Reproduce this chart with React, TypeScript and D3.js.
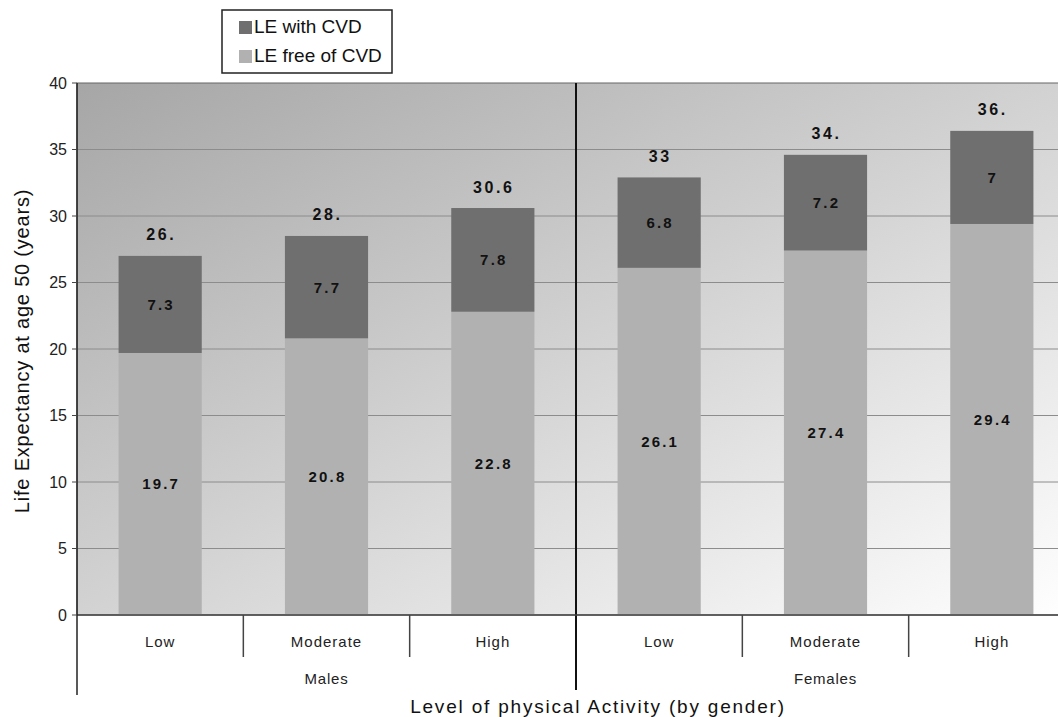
import React from "react";
import * as d3 from "d3";

// Life expectancy at age 50, split into years free of CVD and years with CVD
const genders = ["Males", "Females"];
const levels = ["Low", "Moderate", "High"];
const freeOfCVD = [19.7, 20.8, 22.8, 26.1, 27.4, 29.4];
const withCVD = [7.3, 7.7, 7.8, 6.8, 7.2, 7.0];
const withCVDLabels = ["7.3", "7.7", "7.8", "6.8", "7.2", "7"];
const totalLabels = ["26.", "28.", "30.6", "33", "34.", "36."];
const yTicks = [0, 5, 10, 15, 20, 25, 30, 35, 40];

const W = 1058;
const H = 717;
const left = 77;
const right = 1075;
const top = 83;
const bottom = 615;

const FONT = "'Liberation Sans', Arial, Helvetica, sans-serif";
const DARK = "#6f6f6f";
const LIGHT = "#b1b1b1";

export default function App() {
  const y = d3.scaleLinear().domain([0, 40]).range([bottom, top]);
  const gx = d3.scaleBand<string>().domain(genders).range([left, right]);
  const lx = d3
    .scaleBand<string>()
    .domain(levels)
    .range([0, gx.bandwidth()])
    .paddingInner(0.5)
    .paddingOuter(0.25);
  const step = lx.step();

  const rows = genders.flatMap((g, gi) =>
    levels.map((l, li) => {
      const i = gi * levels.length + li;
      const x0 = (gx(g) as number) + (lx(l) as number);
      return {
        i,
        g,
        l,
        x0,
        cx: x0 + lx.bandwidth() / 2,
        catStart: (gx(g) as number) + li * step,
        free: freeOfCVD[i],
        cvd: withCVD[i],
      };
    })
  );

  const valueStyle: React.CSSProperties = {
    fontFamily: FONT,
    fontWeight: "bold",
    fontSize: 15,
    letterSpacing: 2.2,
    fill: "#111",
  };

  return (
    <svg
      width={W}
      height={H}
      style={{ position: "absolute", left: 0, top: 0, background: "#fff" }}
    >
      <defs>
        <linearGradient id="plotBg" x1="0" y1="0" x2="1" y2="1">
          <stop offset="0" stopColor="#a6a6a6" />
          <stop offset="1" stopColor="#ffffff" />
        </linearGradient>
      </defs>

      {/* plot background */}
      <rect
        x={left}
        y={top}
        width={right - left}
        height={bottom - top}
        fill="url(#plotBg)"
        stroke="#666"
        strokeWidth={1}
      />

      {/* horizontal gridlines */}
      {yTicks
        .filter((t) => t > 0 && t < 40)
        .map((t) => (
          <line
            key={"g" + t}
            x1={left}
            x2={right}
            y1={y(t)}
            y2={y(t)}
            stroke="#8c8c8c"
            strokeWidth={1}
          />
        ))}

      {/* stacked bars */}
      {rows.map((r) => (
        <g key={"bar" + r.i}>
          <rect
            x={r.x0}
            y={y(r.free)}
            width={lx.bandwidth()}
            height={y(0) - y(r.free)}
            fill={LIGHT}
          />
          <rect
            x={r.x0}
            y={y(r.free + r.cvd)}
            width={lx.bandwidth()}
            height={y(r.free) - y(r.free + r.cvd)}
            fill={DARK}
          />
          <text
            x={r.cx + 1}
            y={y(r.free / 2)}
            textAnchor="middle"
            dominantBaseline="central"
            style={valueStyle}
          >
            {String(r.free)}
          </text>
          <text
            x={r.cx + 1}
            y={y(r.free + r.cvd / 2)}
            textAnchor="middle"
            dominantBaseline="central"
            style={valueStyle}
          >
            {withCVDLabels[r.i]}
          </text>
          <text
            x={r.cx + 1}
            y={y(r.free + r.cvd) - 21}
            textAnchor="middle"
            dominantBaseline="central"
            style={{ ...valueStyle, fontSize: 16, letterSpacing: 2.6 }}
          >
            {totalLabels[r.i]}
          </text>
        </g>
      ))}

      {/* divider between genders */}
      <line
        x1={gx("Females") as number}
        x2={gx("Females") as number}
        y1={top}
        y2={690}
        stroke="#111"
        strokeWidth={2}
      />

      {/* axes */}
      <line x1={left} x2={right} y1={bottom} y2={bottom} stroke="#444" strokeWidth={1.5} />
      <line x1={left} x2={left} y1={top} y2={695} stroke="#222" strokeWidth={1.5} />
      {yTicks.map((t) => (
        <g key={"t" + t}>
          <line x1={left - 5} x2={left} y1={y(t)} y2={y(t)} stroke="#444" />
          <text
            x={left - 10}
            y={y(t)}
            textAnchor="end"
            dominantBaseline="central"
            style={{ fontFamily: FONT, fontSize: 16, fill: "#222" }}
          >
            {t}
          </text>
        </g>
      ))}

      {/* category separators and labels */}
      {rows.map((r) =>
        r.l !== levels[0] ? (
          <line
            key={"sep" + r.i}
            x1={r.catStart}
            x2={r.catStart}
            y1={bottom}
            y2={657}
            stroke="#444"
            strokeWidth={1.5}
          />
        ) : null
      )}
      {rows.map((r) => (
        <text
          key={"cl" + r.i}
          x={r.cx}
          y={641}
          textAnchor="middle"
          dominantBaseline="central"
          style={{ fontFamily: FONT, fontSize: 15, letterSpacing: 1, fill: "#222" }}
        >
          {r.l}
        </text>
      ))}
      {genders.map((g) => (
        <text
          key={"gl" + g}
          x={(gx(g) as number) + gx.bandwidth() / 2}
          y={678}
          textAnchor="middle"
          dominantBaseline="central"
          style={{ fontFamily: FONT, fontSize: 15, letterSpacing: 0.8, fill: "#222" }}
        >
          {g}
        </text>
      ))}

      {/* axis titles */}
      <text
        x={598}
        y={706}
        textAnchor="middle"
        dominantBaseline="central"
        style={{ fontFamily: FONT, fontSize: 19, letterSpacing: 1.8, fill: "#111" }}
      >
        Level of physical Activity (by gender)
      </text>
      <text
        transform={`translate(22, 351) rotate(-90)`}
        textAnchor="middle"
        dominantBaseline="central"
        style={{ fontFamily: FONT, fontSize: 20, letterSpacing: 0.8, fill: "#111" }}
      >
        Life Expectancy at age 50 (years)
      </text>

      {/* legend */}
      <g>
        <rect x={222} y={10} width={170} height={63} fill="#fff" stroke="#222" strokeWidth={1.5} />
        <rect x={239} y={21} width={13} height={13} fill={DARK} />
        <text
          x={254}
          y={26}
          dominantBaseline="central"
          style={{ fontFamily: FONT, fontSize: 19, fill: "#111" }}
        >
          LE with CVD
        </text>
        <rect x={239} y={50} width={13} height={13} fill={LIGHT} />
        <text
          x={254}
          y={55}
          dominantBaseline="central"
          style={{ fontFamily: FONT, fontSize: 19, fill: "#111" }}
        >
          LE free of CVD
        </text>
      </g>
    </svg>
  );
}
